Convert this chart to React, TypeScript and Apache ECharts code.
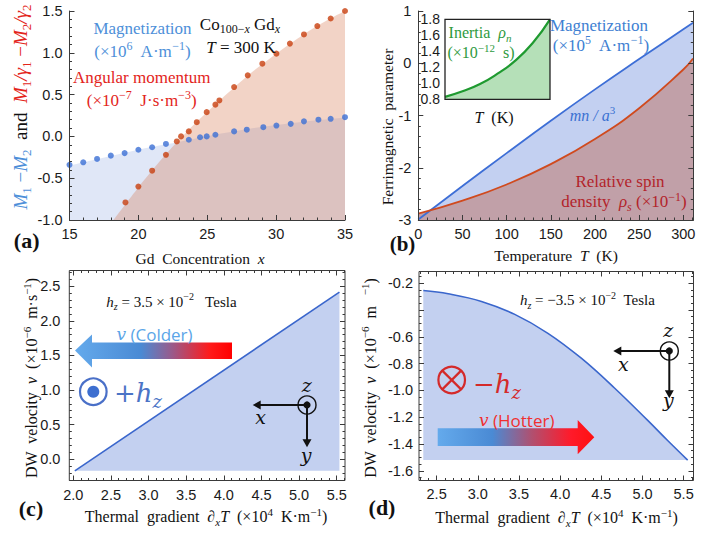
import React, { useEffect, useRef } from "react";
import * as echarts from "echarts";

// ---------- Panel (a): Co(100-x)Gd(x) at T = 300 K ----------
const magX = [15, 16, 17, 18, 19, 20, 21, 22, 23.66, 24.48, 24.96, 25.59, 26.95, 27.87, 29.07, 30.02, 31.06, 32.02, 33.07, 33.96, 35];
const magY = [-0.34, -0.31, -0.27, -0.23, -0.2, -0.16, -0.13, -0.09, -0.04, -0.01, 0.0, 0.02, 0.06, 0.08, 0.11, 0.13, 0.15, 0.18, 0.2, 0.21, 0.23];
const angX = [19.06, 20, 21, 22, 22.79, 23.1, 23.66, 24.24, 24.96, 25.59, 25.88, 26.95, 27.94, 29, 30.02, 31, 32.02, 32.99, 33.96, 35];
const angY = [-0.79, -0.6, -0.41, -0.22, -0.06, 0.0, 0.06, 0.17, 0.29, 0.38, 0.43, 0.59, 0.73, 0.87, 0.99, 1.11, 1.22, 1.32, 1.41, 1.5];
const magFitX = [15, 18, 20, 22, 24, 26, 28, 30, 32, 35];
const magFitY = [-0.35, -0.235, -0.16, -0.095, -0.03, 0.035, 0.09, 0.135, 0.175, 0.225];
const angFitX = [18.19, 20, 22, 24, 26, 28, 30, 32, 34, 35];
const angFitY = [-1.0, -0.61, -0.215, 0.135, 0.445, 0.735, 0.99, 1.22, 1.415, 1.5];
const aXTicks = [15, 20, 25, 30, 35];
const aYTicks = [-1, -0.5, 0, 0.5, 1, 1.5];

// ---------- Panel (b): temperature dependence ----------
const bT = [0, 50, 100, 150, 200, 250, 300, 311];
const bMag = [-2.99, -2.35, -1.72, -1.1, -0.5, 0.08, 0.65, 0.775];
const bRho = [-2.88, -2.63, -2.32, -1.93, -1.45, -0.86, -0.12, 0.09];
const bXTicks = [0, 50, 100, 150, 200, 250, 300];
const bYTicks = [-3, -2, -1, 0, 1];
// inset: inertia
const inT = [0, 50, 100, 150, 200, 250, 300];
const inRho = [0.83, 0.9, 0.99, 1.12, 1.28, 1.5, 1.8];
const inYTicks = [0.8, 1.0, 1.2, 1.4, 1.6, 1.8];

// ---------- Panel (c): h_z = +3.5e-2 T ----------
const cGrad = [2.02, 5.536];
const cVel = [-0.17, 2.418];
const cBase = -0.17;
const cXTicks = [2, 2.5, 3, 3.5, 4, 4.5, 5, 5.5];
const cYTicks = [0, 0.5, 1, 1.5, 2, 2.5];

// ---------- Panel (d): h_z = -3.5e-2 T ----------
const dGrad = [2.338, 2.64, 3.045, 3.449, 3.852, 4.257, 4.66, 5.064, 5.306, 5.549];
const dVel = [-0.255, -0.279, -0.336, -0.433, -0.574, -0.76, -0.982, -1.224, -1.374, -1.52];
const dBase = -1.52;
const dXTicks = [2.5, 3, 3.5, 4, 4.5, 5, 5.5];
const dYTicks = [-1.6, -1.4, -1.2, -1.0, -0.8, -0.6, -0.4, -0.2];
const dYHiddenLabel = -0.4;

const SERIF = "'Liberation Serif','DejaVu Serif',serif";
const SANS = "'Liberation Sans',Arial,sans-serif";
const OPEN = "'Open Sans','Noto Sans',sans-serif";
const MATHI = "'DejaVu Serif',serif";
const FRAME = "#3a3a3a";

function minorsOf(min: number, max: number, step: number, majors: number[]) {
  const out: number[] = [];
  const start = Math.ceil(min / step - 1e-9);
  const end = Math.floor(max / step + 1e-9);
  for (let k = start; k <= end; k++) {
    const v = +(k * step).toFixed(6);
    if (!majors.some((m) => Math.abs(m - v) < 1e-6)) out.push(v);
  }
  return out;
}

type Part = [string, string, string?, string?];
function richText(parts: Part[], size: number, color: string, family = SERIF) {
  const lh = Math.round(size * 1.3);
  const small = Math.round(size * 0.68);
  const rich: any = {};
  const text = parts
    .map(([t, kind, col, fam], i) => {
      const c = col || color;
      const f = fam || family;
      let st: any;
      if (kind === "n") st = { fontSize: size, fontFamily: f, fill: c, lineHeight: lh };
      else if (kind === "i") st = { fontSize: size, fontFamily: f, fontStyle: "italic", fill: c, lineHeight: lh };
      else if (kind === "b") st = { fontSize: size, fontFamily: f, fontWeight: "bold", fill: c, lineHeight: lh };
      else if (kind === "sub") st = { fontSize: small, fontFamily: f, fill: c, lineHeight: small, verticalAlign: "bottom" };
      else if (kind === "isub") st = { fontSize: small, fontFamily: f, fontStyle: "italic", fill: c, lineHeight: small, verticalAlign: "bottom" };
      else if (kind === "sup") st = { fontSize: small, fontFamily: f, fill: c, lineHeight: small, verticalAlign: "top" };
      else st = { fontSize: size, fontFamily: f, fill: c, lineHeight: lh };
      rich["p" + i] = st;
      return `{p${i}|${t}}`;
    })
    .join("");
  return { text, rich };
}

function txt(parts: Part[], size: number, color: string, x: number, y: number, opts: any = {}) {
  const r = richText(parts, size, color, opts.family || SERIF);
  return {
    type: "text",
    x,
    y,
    rotation: opts.rotation || 0,
    z: 100,
    style: {
      text: r.text,
      rich: r.rich,
      fill: color,
      align: opts.align || "center",
      verticalAlign: "middle",
    },
  };
}

function coordGlyph(cx: number, cy: number, tipX: number, tipY: number, zp: number[], xp: number[], yp: number[]) {
  const lw = 2;
  const h = 8;
  const w = 4.5;
  return [
    { type: "line", z: 100, shape: { x1: cx, y1: cy, x2: tipX + h - 1, y2: cy }, style: { stroke: "#111", lineWidth: lw } },
    { type: "polygon", z: 100, shape: { points: [[tipX, cy], [tipX + h, cy - w], [tipX + h, cy + w]] }, style: { fill: "#111" } },
    { type: "line", z: 100, shape: { x1: cx, y1: cy, x2: cx, y2: tipY - h + 1 }, style: { stroke: "#111", lineWidth: lw } },
    { type: "polygon", z: 100, shape: { points: [[cx, tipY], [cx - w, tipY - h], [cx + w, tipY - h]] }, style: { fill: "#111" } },
    { type: "circle", z: 100, shape: { cx, cy, r: 9 }, style: { fill: "none", stroke: "#111", lineWidth: 1.4 } },
    { type: "circle", z: 101, shape: { cx, cy, r: 3.6 }, style: { fill: "#111" } },
    txt([["z", "i"]], 19, "#111", zp[0], zp[1], { family: MATHI }),
    txt([["x", "i"]], 19, "#111", xp[0], xp[1], { family: MATHI }),
    txt([["y", "i"]], 19, "#111", yp[0], yp[1], { family: MATHI }),
  ];
}

function gradArrow(points: number[][], stops: [number, string][]) {
  return {
    type: "polygon",
    z: 100,
    shape: { points },
    style: {
      fill: new echarts.graphic.LinearGradient(0, 0, 1, 0, stops.map(([offset, color]) => ({ offset, color }))),
    },
  };
}

const xAxes: any[] = [];
const yAxes: any[] = [];

function addAxis(
  list: any[],
  grid: number,
  pos: string,
  min: number,
  max: number,
  majors: number[],
  minors: number[],
  label: any,
  lineShow: boolean,
  majorLen = 5
) {
  const base = { type: "value", gridIndex: grid, min, max, position: pos, z: 6, splitLine: { show: false } };
  const idx = list.length;
  list.push({
    ...base,
    axisLine: { show: lineShow, onZero: false, lineStyle: { color: FRAME, width: 1 } },
    axisTick: { show: true, inside: true, length: majorLen, customValues: majors, lineStyle: { color: FRAME, width: 1 } },
    axisLabel: label
      ? { show: true, customValues: majors, color: "#1a1a1a", fontFamily: SANS, fontSize: 14.5, ...label }
      : { show: false },
  });
  if (minors.length) {
    list.push({
      ...base,
      axisLine: { show: false, onZero: false },
      axisTick: { show: true, inside: true, length: 2.5, customValues: minors, lineStyle: { color: FRAME, width: 1 } },
      axisLabel: { show: false },
    });
  }
  return idx;
}

// (a) grid 0
const aMinX = 15, aMaxX = 35, aMinY = -1, aMaxY = 1.5;
const aXi = addAxis(xAxes, 0, "bottom", aMinX, aMaxX, aXTicks, minorsOf(aMinX, aMaxX, 1, aXTicks), { margin: 6, formatter: (v: number) => String(v) }, true);
const aYi = addAxis(yAxes, 0, "left", aMinY, aMaxY, aYTicks, minorsOf(aMinY, aMaxY, 0.1, aYTicks), { margin: 7, formatter: (v: number) => v.toFixed(1) }, true);

// (b) grid 1
const bMinX = 0, bMaxX = 311.3, bMinY = -3, bMaxY = 1;
const bXi = addAxis(xAxes, 1, "bottom", bMinX, bMaxX, bXTicks, minorsOf(bMinX, bMaxX, 10, bXTicks), { margin: 6, formatter: (v: number) => String(v) }, true);
const bYi = addAxis(yAxes, 1, "left", bMinY, bMaxY, bYTicks, minorsOf(bMinY, bMaxY, 0.2, bYTicks), { margin: 7, formatter: (v: number) => String(v) }, true);
addAxis(yAxes, 1, "right", bMinY, bMaxY, bYTicks, minorsOf(bMinY, bMaxY, 0.2, bYTicks), null, true);

// inset grid 2
const iXi = addAxis(xAxes, 2, "bottom", 0, 300, [], [], null, false);
const iYi = addAxis(yAxes, 2, "left", 0.8, 1.8, inYTicks, [], { margin: 5, fontSize: 14, formatter: (v: number) => v.toFixed(1) }, false, 0);

// (c) grid 3
const cMinX = 1.947, cMaxX = 5.61, cMinY = -0.31, cMaxY = 2.73;
const cXi = addAxis(xAxes, 3, "bottom", cMinX, cMaxX, cXTicks, minorsOf(cMinX, cMaxX, 0.1, cXTicks), { margin: 7, formatter: (v: number) => v.toFixed(1) }, false);
addAxis(xAxes, 3, "top", cMinX, cMaxX, cXTicks, minorsOf(cMinX, cMaxX, 0.1, cXTicks), null, false);
const cYi = addAxis(yAxes, 3, "left", cMinY, cMaxY, cYTicks, minorsOf(cMinY, cMaxY, 0.1, cYTicks), { margin: 9, formatter: (v: number) => v.toFixed(1) }, false);
addAxis(yAxes, 3, "right", cMinY, cMaxY, cYTicks, minorsOf(cMinY, cMaxY, 0.1, cYTicks), null, false);

// (d) grid 4
const dMinX = 2.286, dMaxX = 5.62, dMinY = -1.672, dMaxY = -0.113;
const dXi = addAxis(xAxes, 4, "bottom", dMinX, dMaxX, dXTicks, minorsOf(dMinX, dMaxX, 0.1, dXTicks), { margin: 6, formatter: (v: number) => v.toFixed(1) }, false);
addAxis(xAxes, 4, "top", dMinX, dMaxX, dXTicks, minorsOf(dMinX, dMaxX, 0.1, dXTicks), null, false);
const dYi = addAxis(
  yAxes, 4, "left", dMinY, dMaxY, dYTicks, minorsOf(dMinY, dMaxY, 0.05, dYTicks),
  { margin: 6, formatter: (v: number) => (Math.abs(v - dYHiddenLabel) < 1e-6 ? "" : v.toFixed(1)) }, false
);
addAxis(yAxes, 4, "right", dMinY, dMaxY, dYTicks, minorsOf(dMinY, dMaxY, 0.05, dYTicks), null, false);

const zip = (xs: number[], ys: number[]) => xs.map((x, i) => [x, ys[i]]);

const A_BLUE = "#4d8fd9";
const A_RED = "#e3241b";

function buildOption(): any {
  const graphic: any[] = [
    // (a)
    txt([["Magnetization", "n"]], 17, A_BLUE, 142.5, 28.3),
    txt([["(×10", "n"], ["6", "sup"], ["  A·m", "n"], ["−1", "sup"], [")", "n"]], 17, A_BLUE, 142.5, 51),
    txt([["Angular momentum", "n"]], 17, A_RED, 141.7, 77.3),
    txt([["(×10", "n"], ["−7", "sup"], ["  J·s·m", "n"], ["−3", "sup"], [")", "n"]], 17, A_RED, 141.7, 100),
    txt([["Co", "n"], ["100−", "sub"], ["x", "isub"], [" Gd", "n"], ["x", "isub"]], 17, "#111", 240, 24),
    txt([["T", "i"], [" = 300 K", "n"]], 17, "#111", 241, 47.3),
    txt(
      [
        ["M", "i", A_BLUE], ["1", "sub", A_BLUE], [" −", "n", A_BLUE], ["M", "i", A_BLUE], ["2", "sub", A_BLUE],
        ["  and  ", "n", "#111"],
        ["M", "i", A_RED], ["1", "sub", A_RED], ["/γ", "i", A_RED], ["1", "sub", A_RED], [" −", "n", A_RED],
        ["M", "i", A_RED], ["2", "sub", A_RED], ["/γ", "i", A_RED], ["2", "sub", A_RED],
      ],
      19, "#111", 20, 107, { rotation: Math.PI / 2 }
    ),
    txt([["Gd  Concentration  ", "n"], ["x", "i"]], 15.5, "#111", 200, 258),
    txt([["(a)", "b"]], 22, "#111", 26.7, 240),

    // (b)
    txt([["Magnetization", "n"]], 17, "#3e80d2", 599, 25),
    txt([["(×10", "n"], ["5", "sup"], ["  A·m", "n"], ["−1", "sup"], [")", "n"]], 17, "#3e80d2", 601, 45),
    txt([["mn / a", "i"], ["3", "sup"]], 16, "#3a70d2", 592.5, 115),
    txt([["Relative spin", "n"]], 17, "#b3242b", 620, 181.7),
    txt([["density  ", "n"], ["ρ", "i"], ["s", "isub"], [" (×10", "n"], ["−1", "sup"], [")", "n"]], 17, "#b3242b", 624, 201.7),
    txt([["Inertia  ", "n"], ["ρ", "i"], ["n", "isub"]], 16, "#2e9a40", 480, 32.7),
    txt([["(×10", "n"], ["−12", "sup"], ["  s)", "n"]], 16, "#2e9a40", 481, 52.7),
    txt([["T", "i"], ["  (K)", "n"]], 16, "#111", 494, 117),
    txt([["Ferrimagnetic  parameter", "n"]], 15.5, "#111", 387, 127, { rotation: Math.PI / 2 }),
    txt([["Temperature  ", "n"], ["T", "i"], ["  (K)", "n"]], 15.5, "#111", 556, 255),
    txt([["(b)", "b"]], 21, "#111", 402.5, 244),

    // (c)
    txt([["h", "i"], ["z", "isub"], [" = 3.5 × 10", "n"], ["−2", "sup"], ["   Tesla", "n"]], 15, "#111", 171.5, 301.7),
    gradArrow(
      [[75, 350.5], [92, 334.5], [92, 342.5], [232, 342.5], [232, 359], [92, 359], [92, 367.5]],
      [[0, "#64aaec"], [0.42, "#4a8ad4"], [0.62, "#9a5a8a"], [0.86, "#ff1a1a"], [1, "#ff0000"]]
    ),
    txt([["v", "i", undefined, MATHI], [" (Colder)", "n", undefined, OPEN]], 17, "#5aa5e8", 154.5, 334),
    { type: "circle", z: 100, shape: { cx: 93.3, cy: 391.7, r: 13.3 }, style: { fill: "none", stroke: "#4a70c8", lineWidth: 2.2 } },
    { type: "circle", z: 100, shape: { cx: 93.3, cy: 391.7, r: 6 }, style: { fill: "#3d6fd0" } },
    txt([["+", "n"], ["h", "i"], ["z", "isub"]], 26, "#4b74c6", 114, 393, { align: "left", family: MATHI }),
    ...coordGlyph(307, 405, 252.7, 447.3, [306.7, 385], [260.7, 417], [306, 455]),
    txt(
      [["Thermal  gradient  ", "n"], ["∂", "i"], ["x", "isub"], ["T", "i"], ["  (×10", "n"], ["4", "sup"], ["  K·m", "n"], ["−1", "sup"], [")", "n"]],
      16, "#111", 206, 516.7
    ),
    txt(
      [["DW  velocity  ", "n"], ["v", "i"], ["  (×10", "n"], ["−6", "sup"], ["  m·s", "n"], ["−1", "sup"], [")", "n"]],
      16, "#111", 31.7, 378, { rotation: Math.PI / 2 }
    ),
    txt([["(c)", "b"]], 22, "#111", 31, 508),

    // (d)
    txt([["h", "i"], ["z", "isub"], [" = −3.5 × 10", "n"], ["−2", "sup"], ["  Tesla", "n"]], 15, "#111", 587.5, 300),
    gradArrow(
      [[437.7, 428.3], [577.7, 428.3], [577.7, 420], [594.3, 437.2], [577.7, 454.3], [577.7, 446], [437.7, 446]],
      [[0, "#64aaec"], [0.35, "#4a8ad4"], [0.6, "#b05070"], [0.85, "#ff1a2a"], [1, "#ff1010"]]
    ),
    txt([["v", "i", undefined, MATHI], [" (Hotter)", "n", undefined, OPEN]], 17, "#f03030", 516.7, 420),
    { type: "circle", z: 100, shape: { cx: 451.7, cy: 380, r: 13.3 }, style: { fill: "none", stroke: "#d42a2a", lineWidth: 2.2 } },
    { type: "line", z: 100, shape: { x1: 442.3, y1: 370.6, x2: 461.1, y2: 389.4 }, style: { stroke: "#d42a2a", lineWidth: 2.2 } },
    { type: "line", z: 100, shape: { x1: 461.1, y1: 370.6, x2: 442.3, y2: 389.4 }, style: { stroke: "#d42a2a", lineWidth: 2.2 } },
    txt([["−", "n"], ["h", "i"], ["z", "isub"]], 26, "#d42a2a", 473, 384, { align: "left", family: MATHI }),
    ...coordGlyph(669.3, 351, 613.3, 398.3, [668.3, 330], [623.3, 363.5], [668.3, 400]),
    txt(
      [["Thermal  gradient  ", "n"], ["∂", "i"], ["x", "isub"], ["T", "i"], ["  (×10", "n"], ["4", "sup"], ["  K·m", "n"], ["−1", "sup"], [")", "n"]],
      16, "#111", 556.5, 517.7
    ),
    txt(
      [["DW  velocity  ", "n"], ["v", "i"], ["  (×10", "n"], ["−6", "sup"], ["  m", "n"], ["    −1", "sup"], [")", "n"]],
      16, "#111", 370, 378, { rotation: Math.PI / 2 }
    ),
    txt([["(d)", "b"]], 22, "#111", 382, 507),
  ];

  return {
    animation: false,
    backgroundColor: "#ffffff",
    grid: [
      { left: 69.5, top: 11, width: 275.5, height: 209 },
      { left: 418.3, top: 11, width: 275, height: 209 },
      { left: 445, top: 19.3, width: 105, height: 80, show: true, borderColor: "#222", borderWidth: 1.3, backgroundColor: "transparent", z: 10 },
      { left: 69.3, top: 270.5, width: 275.7, height: 210, show: true, borderColor: FRAME, borderWidth: 1, backgroundColor: "transparent", z: 10 },
      { left: 419, top: 271.5, width: 274.5, height: 209, show: true, borderColor: FRAME, borderWidth: 1, backgroundColor: "transparent", z: 10 },
    ],
    xAxis: xAxes,
    yAxis: yAxes,
    series: [
      // (a)
      {
        type: "line", xAxisIndex: aXi, yAxisIndex: aYi, data: zip(magFitX, magFitY), showSymbol: false, smooth: 0.3,
        lineStyle: { width: 0 }, areaStyle: { color: "rgba(110,140,215,0.30)", origin: "start" }, z: 1, silent: true,
      },
      {
        type: "line", xAxisIndex: aXi, yAxisIndex: aYi, data: zip(angFitX, angFitY), showSymbol: false, smooth: 0.3,
        lineStyle: { width: 0 }, areaStyle: { color: "rgba(212,105,62,0.42)", origin: "start" }, z: 1, silent: true,
      },
      { type: "scatter", xAxisIndex: aXi, yAxisIndex: aYi, data: zip(magX, magY), symbolSize: 6, itemStyle: { color: "#3b6fd4" }, z: 3 },
      { type: "scatter", xAxisIndex: aXi, yAxisIndex: aYi, data: zip(angX, angY), symbolSize: 6, itemStyle: { color: "#c8400f" }, z: 3 },
      // (b)
      {
        type: "line", xAxisIndex: bXi, yAxisIndex: bYi, data: zip(bT, bMag), showSymbol: false, smooth: true,
        lineStyle: { width: 0 }, areaStyle: { color: "#c3d0f1", opacity: 1, origin: "start" }, z: 1,
      },
      {
        type: "line", xAxisIndex: bXi, yAxisIndex: bYi, data: zip(bT, bRho), showSymbol: false, smooth: true,
        lineStyle: { width: 0 }, areaStyle: { color: "#c1a0a8", opacity: 1, origin: "start" }, z: 1,
      },
      {
        type: "line", xAxisIndex: bXi, yAxisIndex: bYi, data: zip(bT, bMag), showSymbol: false, smooth: true,
        lineStyle: { width: 1.8, color: "#3d6ed6" }, z: 3,
      },
      {
        type: "line", xAxisIndex: bXi, yAxisIndex: bYi, data: zip(bT, bRho), showSymbol: false, smooth: true,
        lineStyle: { width: 1.8, color: "#d04a1e" }, z: 3,
      },
      // inset
      {
        type: "line", xAxisIndex: iXi, yAxisIndex: iYi, data: zip(inT, inRho), showSymbol: false, smooth: true,
        lineStyle: { width: 2.2, color: "#1f9a30" }, areaStyle: { color: "#b5e0b8", opacity: 1, origin: "start" }, z: 3,
      },
      // (c)
      {
        type: "line", xAxisIndex: cXi, yAxisIndex: cYi, data: zip(cGrad, cVel), showSymbol: false,
        lineStyle: { width: 1.6, color: "#3a66cc" }, areaStyle: { color: "#c3d0f0", opacity: 1, origin: cBase }, z: 2,
      },
      // (d)
      {
        type: "line", xAxisIndex: dXi, yAxisIndex: dYi, data: zip(dGrad, dVel), showSymbol: false, smooth: 0.4,
        lineStyle: { width: 1.6, color: "#3a66cc" }, areaStyle: { color: "#c3d0f0", opacity: 1, origin: dBase }, z: 2,
      },
    ],
    graphic,
  };
}

export default function App() {
  const ref = useRef<HTMLDivElement>(null);
  useEffect(() => {
    document.body.style.margin = "0";
    if (!ref.current) return;
    const chart = echarts.init(ref.current, undefined, { renderer: "svg" });
    chart.setOption(buildOption());
    return () => chart.dispose();
  }, []);
  return <div ref={ref} style={{ width: 715, height: 533 }} />;
}
